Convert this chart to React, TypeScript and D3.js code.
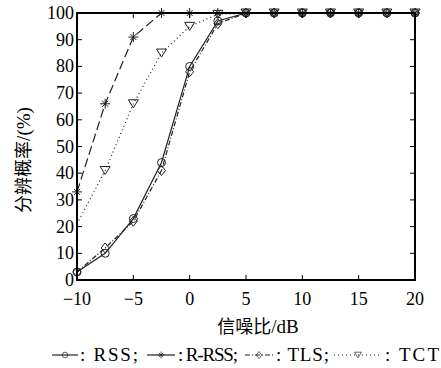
import React from 'react';
import * as d3 from 'd3';

const snr = [-10, -7.5, -5, -2.5, 0, 2.5, 5, 7.5, 10, 12.5, 15, 17.5, 20];
const rss = [3, 10, 23, 44, 80, 97, 100, 100, 100, 100, 100, 100, 100];
const rrss = [33, 66, 91, 100, 100, 100, 100, 100, 100, 100, 100, 100, 100];
const tls = [3, 12, 22, 41, 78, 96, 100, 100, 100, 100, 100, 100, 100];
const tct = [21, 41, 66, 85, 95, 99.5, 100, 100, 100, 100, 100, 100, 100];
const xTicks = [-10, -5, 0, 5, 10, 15, 20];
const yTicks = [0, 10, 20, 30, 40, 50, 60, 70, 80, 90, 100];

const serif = 'Liberation Serif';
const cjk = 'Noto Sans CJK SC';

type Marker = 'circle' | 'star' | 'diamond' | 'tri';

const series: { name: string; values: number[]; dash?: string; marker: Marker; showFirst: boolean }[] = [
  { name: 'RSS', values: rss, marker: 'circle', showFirst: true },
  { name: 'R-RSS', values: rrss, dash: '9,4', marker: 'star', showFirst: true },
  { name: 'TLS', values: tls, dash: '5,2,1,2', marker: 'diamond', showFirst: true },
  { name: 'TCT', values: tct, dash: '1,3', marker: 'tri', showFirst: false },
];

const MarkerShape: React.FC<{ m: Marker; x: number; y: number; k?: number }> = ({ m, x, y, k = 1 }) => (
  <g transform={`translate(${x},${y}) scale(${k})`} fill="none" stroke="#222" strokeWidth={1}>
    {m === 'circle' && <circle r={4} />}
    {m === 'diamond' && <path d="M0,-5L4,0L0,5L-4,0Z" />}
    {m === 'tri' && <path d="M-5,-4L5,-4L0,4Z" />}
    {m === 'star' && <path d="M-5,0H5M0,-5V5M-3,-3L3,3M-3,3L3,-3" />}
  </g>
);

const left = 77, right = 415, top = 13, bottom = 280;
const x = d3.scaleLinear().domain([-10, 20]).range([left, right]);
const y = d3.scaleLinear().domain([0, 100]).range([bottom, top]);
const line = d3.line<number>().x((_, i) => x(snr[i])).y(d => y(d));

// legend layout: sample line span, text start and text width
const legendItems = [
  { s: series[0], x0: 52, x1: 78, tx: 80, tw: 58, label: ': RSS;' },
  { s: series[1], x0: 147, x1: 175, tx: 178, tw: 60, label: ': R-RSS;' },
  { s: series[2], x0: 245, x1: 273, tx: 276, tw: 53, label: ': TLS;' },
  { s: series[3], x0: 334, x1: 382, tx: 385, tw: 54, label: ': TCT' },
];
const ly = 355;

const App: React.FC = () => (
  <svg width={441} height={368} style={{ position: 'absolute', left: 0, top: 0 }}>
    {series.map(s => (
      <path key={s.name} d={line(s.values) || ''} fill="none" stroke="#222" strokeWidth={1.2}
        strokeDasharray={s.dash} />
    ))}
    {series.map(s => s.values.map((v, i) =>
      (i === 0 && !s.showFirst) ? null :
        <MarkerShape key={s.name + i} m={s.marker} x={x(snr[i])} y={y(v)} />
    ))}

    <g stroke="#000" strokeWidth={1}>
      {xTicks.map(t => (
        <g key={'xt' + t}>
          <line x1={x(t)} x2={x(t)} y1={bottom} y2={bottom - 5} />
          <line x1={x(t)} x2={x(t)} y1={top} y2={top + 5} />
        </g>
      ))}
      {yTicks.map(t => (
        <g key={'yt' + t}>
          <line x1={left} x2={left + 5} y1={y(t)} y2={y(t)} />
          <line x1={right} x2={right - 5} y1={y(t)} y2={y(t)} />
        </g>
      ))}
    </g>
    <rect x={left} y={top} width={right - left} height={bottom - top} fill="none" stroke="#000" strokeWidth={2} />

    {xTicks.map(t => (
      <text key={'xl' + t} x={x(t)} y={bottom + 25} textAnchor="middle" fontFamily={serif} fontSize={18}>
        {t < 0 ? `\u2212${-t}` : `${t}`}
      </text>
    ))}
    {yTicks.map(t => (
      <text key={'yl' + t} x={left - 3} y={y(t) + 6} textAnchor="end" fontFamily={serif} fontSize={18}>{t}</text>
    ))}

    <text x={258} y={333} textAnchor="middle" fontSize={18}>
      <tspan fontFamily={cjk}>信噪比</tspan>
      <tspan fontFamily={serif} fontSize={19}>/dB</tspan>
    </text>
    <text transform="translate(30,160) rotate(-90)" textAnchor="middle" fontSize={18}>
      <tspan fontFamily={cjk}>分辨概率</tspan>
      <tspan fontFamily={serif} fontSize={19}>/(%)</tspan>
    </text>

    {legendItems.map(it => (
      <g key={it.label}>
        <line x1={it.x0} x2={it.x1} y1={ly} y2={ly} stroke="#222" strokeWidth={1.2}
          strokeDasharray={it.s.name === 'R-RSS' ? undefined : it.s.dash} />
        <MarkerShape m={it.s.marker} x={(it.x0 + it.x1) / 2} y={ly} k={0.7} />
        <text x={it.tx} y={ly + 6} fontFamily={serif} fontSize={19}
          textLength={it.tw} lengthAdjust="spacing">{it.label}</text>
      </g>
    ))}
  </svg>
);

export default App;
